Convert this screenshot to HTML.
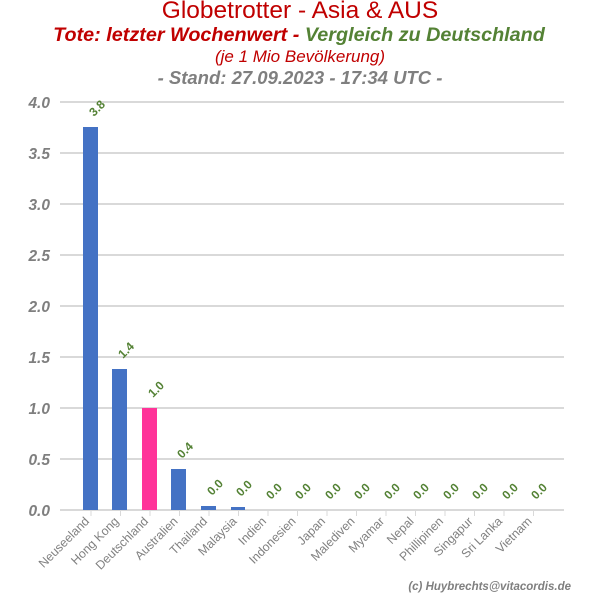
<!DOCTYPE html>
<html><head><meta charset="utf-8"><style>body{margin:0;background:#fff}</style></head><body>
<svg width="600" height="600" xmlns="http://www.w3.org/2000/svg" font-family="Liberation Sans, DejaVu Sans, sans-serif">
<text x="300" y="18" text-anchor="middle" font-size="24.5" fill="#c00000">Globetrotter - Asia &amp; AUS</text>
<text x="299" y="41" text-anchor="middle" font-size="19.8" font-weight="bold" font-style="italic"><tspan fill="#c00000">Tote: letzter Wochenwert - </tspan><tspan fill="#548235">Vergleich zu Deutschland</tspan></text>
<text x="300" y="62" text-anchor="middle" font-size="17" font-style="italic" fill="#c00000">(je 1 Mio Bevölkerung)</text>
<text x="300" y="84" text-anchor="middle" font-size="18.5" font-weight="bold" font-style="italic" fill="#7f7f7f">- Stand: 27.09.2023 - 17:34 UTC -</text>
<g stroke="#d9d9d9" stroke-width="2">
<line x1="60" y1="102" x2="564" y2="102"/><line x1="60" y1="153" x2="564" y2="153"/><line x1="60" y1="204" x2="564" y2="204"/><line x1="60" y1="255" x2="564" y2="255"/><line x1="60" y1="306" x2="564" y2="306"/><line x1="60" y1="357" x2="564" y2="357"/><line x1="60" y1="408" x2="564" y2="408"/><line x1="60" y1="459" x2="564" y2="459"/><line x1="60" y1="510" x2="564" y2="510"/>
</g>
<g font-size="15.5" font-weight="bold" font-style="italic" fill="#7f7f7f" text-anchor="end">
<text x="50" y="108">4.0</text><text x="50" y="159">3.5</text><text x="50" y="210">3.0</text><text x="50" y="261">2.5</text><text x="50" y="312">2.0</text><text x="50" y="363">1.5</text><text x="50" y="414">1.0</text><text x="50" y="465">0.5</text><text x="50" y="516">0.0</text>
</g>
<g fill="#4472c4">
<rect x="83" y="127" width="15" height="383"/>
<rect x="112" y="369" width="15" height="141"/>
<rect x="171" y="469" width="15" height="41"/>
<rect x="201" y="506" width="15" height="4"/>
<rect x="231" y="507" width="14" height="3"/>
</g>
<rect x="142" y="408" width="15" height="102" fill="#ff3399"/>
<g stroke="#d9d9d9" stroke-width="1">
<line x1="91" y1="510" x2="91" y2="516"/><line x1="120.5" y1="510" x2="120.5" y2="516"/><line x1="150" y1="510" x2="150" y2="516"/><line x1="179.5" y1="510" x2="179.5" y2="516"/><line x1="209" y1="510" x2="209" y2="516"/><line x1="238.5" y1="510" x2="238.5" y2="516"/><line x1="268" y1="510" x2="268" y2="516"/><line x1="297.5" y1="510" x2="297.5" y2="516"/><line x1="327" y1="510" x2="327" y2="516"/><line x1="356.5" y1="510" x2="356.5" y2="516"/><line x1="386" y1="510" x2="386" y2="516"/><line x1="415.5" y1="510" x2="415.5" y2="516"/><line x1="445" y1="510" x2="445" y2="516"/><line x1="474.5" y1="510" x2="474.5" y2="516"/><line x1="504" y1="510" x2="504" y2="516"/><line x1="533.5" y1="510" x2="533.5" y2="516"/>
</g>
<g font-size="12.3" fill="#808080" text-anchor="end">
<text transform="translate(90,522) rotate(-45)">Neuseeland</text>
<text transform="translate(119.5,522) rotate(-45)">Hong Kong</text>
<text transform="translate(149,522) rotate(-45)">Deutschland</text>
<text transform="translate(178.5,522) rotate(-45)">Australien</text>
<text transform="translate(208,522) rotate(-45)">Thailand</text>
<text transform="translate(237.5,522) rotate(-45)">Malaysia</text>
<text transform="translate(267,522) rotate(-45)">Indien</text>
<text transform="translate(296.5,522) rotate(-45)">Indonesien</text>
<text transform="translate(326,522) rotate(-45)">Japan</text>
<text transform="translate(355.5,522) rotate(-45)">Malediven</text>
<text transform="translate(385,522) rotate(-45)">Myamar</text>
<text transform="translate(414.5,522) rotate(-45)">Nepal</text>
<text transform="translate(444,522) rotate(-45)">Phillipinen</text>
<text transform="translate(473.5,522) rotate(-45)">Singapur</text>
<text transform="translate(503,522) rotate(-45)">Sri Lanka</text>
<text transform="translate(532.5,522) rotate(-45)">Vietnam</text>
</g>
<g font-size="12" font-weight="bold" fill="#548235">
<text transform="translate(94,117) rotate(-45)">3.8</text>
<text transform="translate(123,359) rotate(-45)">1.4</text>
<text transform="translate(153,398) rotate(-45)">1.0</text>
<text transform="translate(182,459) rotate(-45)">0.4</text>
<text transform="translate(212,496) rotate(-45)">0.0</text>
<text transform="translate(241,497) rotate(-45)">0.0</text>
<text transform="translate(271,500) rotate(-45)">0.0</text>
<text transform="translate(300,500) rotate(-45)">0.0</text>
<text transform="translate(330,500) rotate(-45)">0.0</text>
<text transform="translate(359,500) rotate(-45)">0.0</text>
<text transform="translate(389,500) rotate(-45)">0.0</text>
<text transform="translate(418,500) rotate(-45)">0.0</text>
<text transform="translate(448,500) rotate(-45)">0.0</text>
<text transform="translate(477,500) rotate(-45)">0.0</text>
<text transform="translate(507,500) rotate(-45)">0.0</text>
<text transform="translate(536,500) rotate(-45)">0.0</text>
</g>
<text x="571" y="590" text-anchor="end" font-size="11.5" font-weight="bold" font-style="italic" fill="#7f7f7f">(c) Huybrechts@vitacordis.de</text>
</svg>
</body></html>
